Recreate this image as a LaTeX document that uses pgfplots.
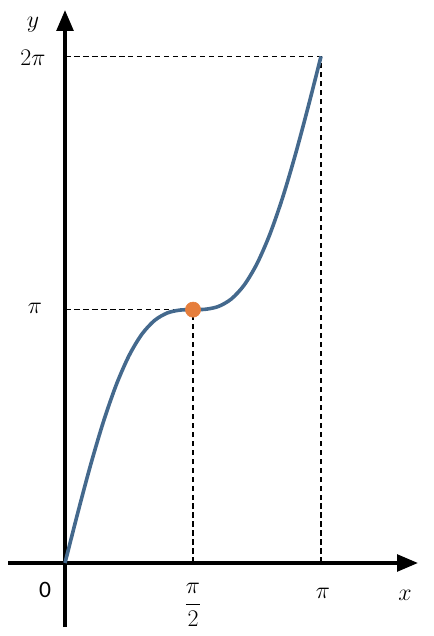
\documentclass[border=0pt]{standalone}
\usepackage{amsmath}
\usepackage{fontspec}
\setmainfont{Carlito}
\usepackage{pgfplots}
\pgfplotsset{compat=1.18}
\usetikzlibrary{arrows.meta}

\definecolor{curveblue}{HTML}{44698D}
\definecolor{dotorange}{HTML}{E67E3C}

\begin{document}
\begin{tikzpicture}[lbl/.style={font=\fontsize{17}{20}\selectfont, inner sep=0pt}]
\path[use as bounding box] (0,0) rectangle (4.34in,6.36in);
\begin{axis}[
  at={(0,0)}, anchor=south west,
  scale only axis, width=4.34in, height=6.36in,
  xmin=-0.7976, xmax=4.5276,
  ymin=-0.9052, ymax=6.9812,
  hide axis, clip=false,
]
  % guide lines
  \addplot[black, line width=0.8pt, dash pattern=on 4pt off 2.5pt]
    coordinates {(0,3.14159) (1.5708,3.14159)};
  \addplot[black, line width=0.8pt, dash pattern=on 4pt off 2.5pt]
    coordinates {(1.5708,0) (1.5708,3.14159)};
  \addplot[black, line width=0.8pt, dash pattern=on 4pt off 2.5pt]
    coordinates {(0,6.28319) (3.14159,6.28319)};
  \addplot[black, line width=0.8pt, dash pattern=on 4pt off 2.5pt]
    coordinates {(3.14159,0) (3.14159,6.28319)};

  % axes
  \addplot[black, line width=2.4pt, -{Triangle[length=15pt,width=12pt]}]
    coordinates {(-0.699,0) (4.331,0)};
  \addplot[black, line width=2.4pt, -{Triangle[length=15pt,width=12pt]}]
    coordinates {(0,-0.794) (0,6.857)};

  % curve
  \addplot[curveblue, line width=2.6pt, smooth] coordinates {
    (0,0) (0.15708,0.62318) (0.31416,1.21611) (0.47124,1.75150)
    (0.62832,2.20770) (0.78540,2.57080) (0.94248,2.83602)
    (1.09956,3.00813) (1.25664,3.10106) (1.41372,3.13645)
    (1.57080,3.14159) (1.72788,3.14673) (1.88496,3.18212)
    (2.04204,3.27505) (2.19911,3.44717) (2.35619,3.71239)
    (2.51327,4.07549) (2.67035,4.53169) (2.82743,5.06708)
    (2.98451,5.66001) (3.14159,6.28319)
  };

  % inflection point
  \addplot[only marks, mark=*, mark size=5.5pt, color=dotorange]
    coordinates {(1.5708,3.14159)};

  % labels
  \node[lbl] at (axis cs:-0.393,6.671) {$y$};
  \node[lbl] at (axis cs:-0.393,6.262) {$2\pi$};
  \node[lbl] at (axis cs:-0.368,3.162) {$\pi$};
  \node[lbl] at (axis cs:-0.245,-0.335) {0};
  \node[lbl] at (axis cs:1.5708,-0.52) {$\dfrac{\pi}{2}$};
  \node[lbl] at (axis cs:3.166,-0.372) {$\pi$};
  \node[lbl] at (axis cs:4.172,-0.397) {$x$};
\end{axis}
\end{tikzpicture}
\end{document}
